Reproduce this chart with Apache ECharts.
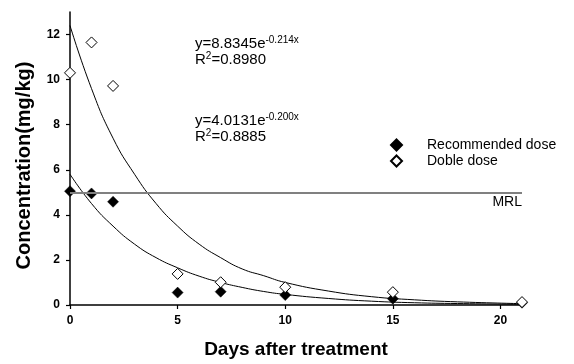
<!DOCTYPE html>
<html>
<head>
<meta charset="utf-8">
<script src="https://cdn.jsdelivr.net/npm/echarts@6/dist/echarts.min.js"></script>
<style>
html,body{margin:0;padding:0;background:#fff;}
#chart{width:574px;height:364px;}
</style>
</head>
<body>
<div id="chart"></div>
<script>
// Data
const days = [0, 1, 2, 5, 7, 10, 15, 21];
const recommendedDose = [5.05, 4.95, 4.58, 0.55, 0.59, 0.44, 0.28, 0.1];
const dobleDose = [10.3, 11.65, 9.72, 1.38, 1.01, 0.79, 0.57, 0.13];

// Fitted trend curves
const curveDays = [0, 1, 2, 3, 4, 5, 6, 7, 8, 9, 10, 12, 14, 16, 18, 21];
const dobleCurve = [12.4, 9.6, 7.4, 5.8, 4.5, 3.5, 2.7, 2.1, 1.6, 1.3, 1.0, 0.62, 0.37, 0.23, 0.14, 0.06];
const recommendedCurve = [5.8, 4.5, 3.5, 2.7, 2.1, 1.65, 1.28, 1.0, 0.78, 0.6, 0.47, 0.29, 0.17, 0.1, 0.065, 0.03];

const mrlValue = 5;
const xTicks = [0, 5, 10, 15, 20];
const yTicks = [0, 2, 4, 6, 8, 10, 12];

const pair = (xs, ys) => xs.map((x, i) => [x, ys[i]]);

const chart = echarts.init(document.getElementById('chart'), null, {renderer: 'canvas'});
const font = 'Liberation Sans, Arial, sans-serif';

const eqRich = {
  b: {fontFamily: font, fontSize: 15, color: '#000', lineHeight: 16, verticalAlign: 'bottom'},
  s: {fontFamily: font, fontSize: 10, color: '#000', lineHeight: 16, verticalAlign: 'top'}
};

chart.setOption({
  animation: false,
  backgroundColor: '#fff',
  textStyle: {fontFamily: font},
  grid: {left: 70, top: 12, width: 452, height: 294, containLabel: false},
  xAxis: {
    type: 'value', min: 0, max: 21,
    name: 'Days after treatment', nameLocation: 'middle', nameGap: 35,
    nameTextStyle: {fontFamily: font, fontWeight: 'bold', fontSize: 19, color: '#000'},
    axisLine: {onZero: false, lineStyle: {color: '#000', width: 1.5}},
    axisTick: {show: true, length: 4, lineStyle: {color: '#000', width: 1.2}, customValues: xTicks},
    axisLabel: {fontFamily: font, fontWeight: 'bold', fontSize: 12, color: '#000', margin: 10, customValues: xTicks},
    splitLine: {show: false}
  },
  yAxis: {
    type: 'value', min: 0, max: 13,
    name: 'Concentration(mg/kg)', nameLocation: 'middle', nameGap: 36,
    nameTextStyle: {fontFamily: font, fontWeight: 'bold', fontSize: 20, color: '#000', padding: [0, 14, 0, 0]},
    axisLine: {show: true, onZero: false, lineStyle: {color: '#000', width: 1.5}},
    axisTick: {show: true, length: 4, lineStyle: {color: '#000', width: 1.2}, customValues: yTicks},
    axisLabel: {fontFamily: font, fontWeight: 'bold', fontSize: 12, color: '#000', margin: 10, customValues: yTicks},
    splitLine: {show: false}
  },
  legend: {
    orient: 'vertical', left: 385, top: 133,
    data: ['Recommended dose', 'Doble dose'],
    itemWidth: 11, itemHeight: 11, itemGap: 2,
    textStyle: {fontFamily: font, fontSize: 14, lineHeight: 14, color: '#000', padding: [0, 0, 0, 20]}
  },
  series: [
    {
      name: 'MRL', type: 'line', data: [], silent: true,
      markLine: {
        symbol: 'none', silent: true,
        lineStyle: {color: '#808080', width: 2, type: 'solid'},
        label: {show: true, position: 'insideEndBottom', formatter: 'MRL', fontFamily: font, fontSize: 14, color: '#000', distance: [0, 3]},
        data: [{yAxis: mrlValue}]
      }
    },
    {
      name: 'dobleCurve', type: 'line', data: pair(curveDays, dobleCurve), smooth: true,
      showSymbol: false, lineStyle: {color: '#000', width: 1}, silent: true
    },
    {
      name: 'recommendedCurve', type: 'line', data: pair(curveDays, recommendedCurve), smooth: true,
      showSymbol: false, lineStyle: {color: '#000', width: 1}, silent: true
    },
    {
      name: 'Recommended dose', type: 'scatter', data: pair(days, recommendedDose),
      symbol: 'diamond', symbolSize: 11,
      itemStyle: {color: '#000', borderColor: '#000', borderWidth: 0.5, opacity: 1}
    },
    {
      name: 'Doble dose', type: 'scatter', data: pair(days, dobleDose),
      symbol: 'diamond', symbolSize: 11, z: 3,
      itemStyle: {color: '#fff', borderColor: '#000', borderWidth: 1, opacity: 1}
    }
  ],
  graphic: [
    {
      type: 'text', left: 195, top: 35,
      style: {text: '{b|y=8.8345e}{s|-0.214x}\n{b|R}{s|2}{b|=0.8980}', rich: eqRich}
    },
    {
      type: 'text', left: 195, top: 112,
      style: {text: '{b|y=4.0131e}{s|-0.200x}\n{b|R}{s|2}{b|=0.8885}', rich: eqRich}
    }
  ]
});
</script>
</body>
</html>
